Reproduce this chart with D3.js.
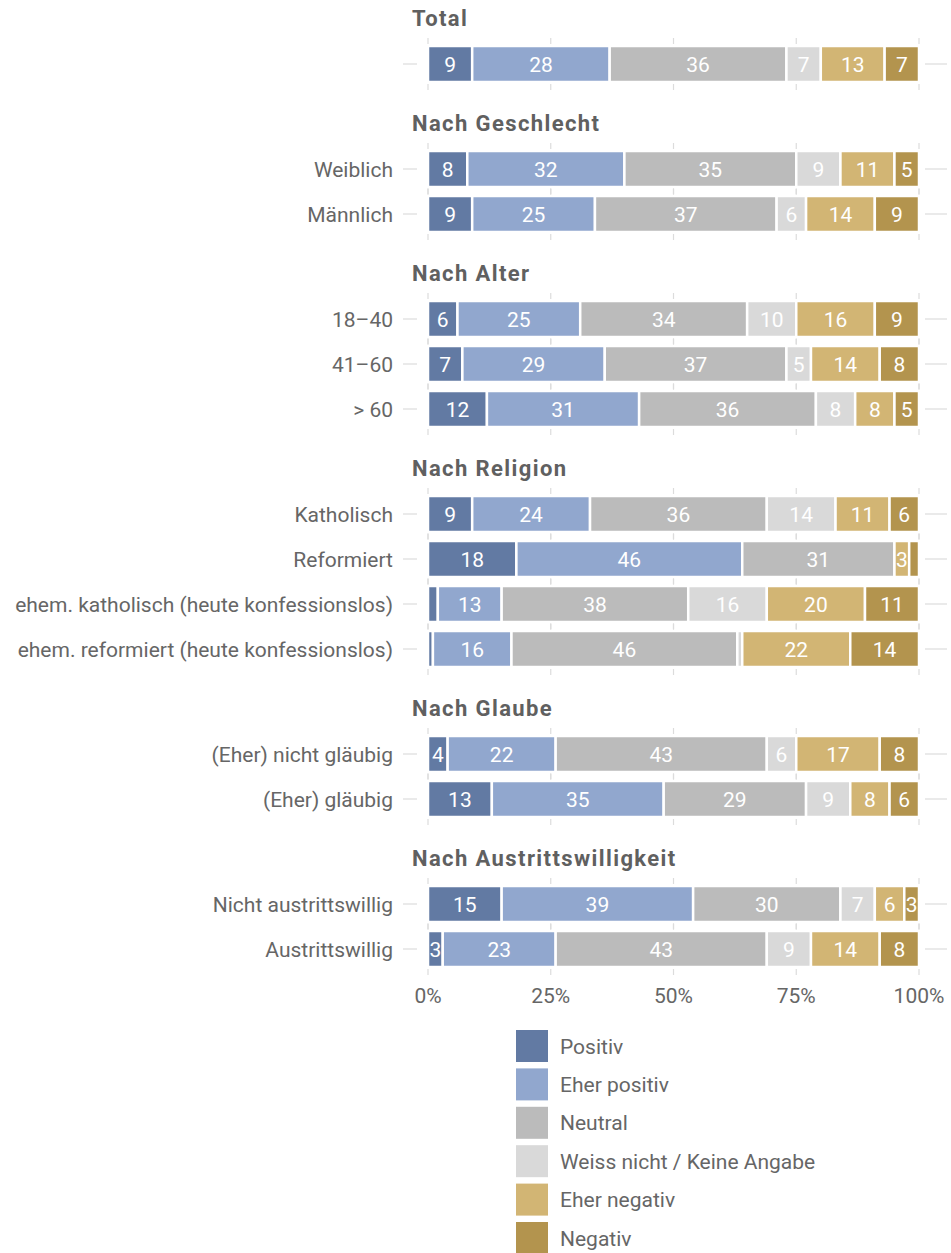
<!DOCTYPE html>
<html>
<head>
<meta charset="utf-8">
<script src="https://cdn.jsdelivr.net/npm/d3@7"></script>
<style>
  html, body { margin: 0; padding: 0; background: #fff; }
  svg text { font-family: Roboto, "Liberation Sans", sans-serif; }
</style>
</head>
<body>
<svg id="chart" width="951" height="1253"></svg>
<script>
const seriesNames = ["Positiv", "Eher positiv", "Neutral", "Weiss nicht / Keine Angabe", "Eher negativ", "Negativ"];
const seriesColors = ["#627aa3", "#91a7ce", "#bbbbbb", "#d9d9d9", "#d2b574", "#b3944e"];

const groups = ["Total", "Nach Geschlecht", "Nach Alter", "Nach Religion", "Nach Glaube", "Nach Austrittswilligkeit"];

const categories = [
  "", "Weiblich", "Männlich", "18–40", "41–60", "> 60",
  "Katholisch", "Reformiert", "ehem. katholisch (heute konfessionslos)", "ehem. reformiert (heute konfessionslos)",
  "(Eher) nicht gläubig", "(Eher) gläubig", "Nicht austrittswillig", "Austrittswillig"
];
const categoryGroup = [0, 1, 1, 2, 2, 2, 3, 3, 3, 3, 4, 4, 5, 5];

const positiv      = [9, 8, 9, 6, 7, 12, 9, 18, 2, 1, 4, 13, 15, 3];
const eherPositiv  = [28, 32, 25, 25, 29, 31, 24, 46, 13, 16, 22, 35, 39, 23];
const neutral      = [36, 35, 37, 34, 37, 36, 36, 31, 38, 46, 43, 29, 30, 43];
const weissNicht   = [7, 9, 6, 10, 5, 8, 14, 0, 16, 1, 6, 9, 7, 9];
const eherNegativ  = [13, 11, 14, 16, 14, 8, 11, 3, 20, 22, 17, 8, 6, 14];
const negativ      = [7, 5, 9, 9, 8, 5, 6, 2, 11, 14, 8, 6, 3, 8];

const tickValues = [0, 25, 50, 75, 100];
const tickLabels = ["0%", "25%", "50%", "75%", "100%"];

const seriesValues = [positiv, eherPositiv, neutral, weissNicht, eherNegativ, negativ];

const svg = d3.select("#chart");
const x = d3.scaleLinear().domain([0, 100]).range([428, 919]);
const slot = (i) => i + categoryGroup[i] * (60 / 45);
const y = d3.scaleLinear().domain([0, 1]).range([64, 109]);

const barH = 36;
const gridColor = "#dcdcdc";
const textColor = "#666666";
const fs = 21;

const rows = categories.map((c, i) => {
  let cum = 0;
  const segs = seriesValues.map((vals, s) => {
    const seg = { s, v: vals[i], x0: cum, x1: cum + vals[i] };
    cum += vals[i];
    return seg;
  });
  return { name: c, i, cy: y(slot(i)), segs };
});

// gridlines
const grid = svg.append("g");
rows.forEach(r => {
  grid.append("line")
    .attr("x1", 403).attr("x2", 417).attr("y1", r.cy).attr("y2", r.cy)
    .attr("stroke", gridColor).attr("stroke-width", 1.2);
  grid.append("line")
    .attr("x1", 925).attr("x2", 947).attr("y1", r.cy).attr("y2", r.cy)
    .attr("stroke", gridColor).attr("stroke-width", 1.2);
  tickValues.forEach(t => {
    [[r.cy - 26, r.cy - 20], [r.cy + 20, r.cy + 26]].forEach(([a, b]) => {
      grid.append("line")
        .attr("x1", x(t)).attr("x2", x(t)).attr("y1", a).attr("y2", b)
        .attr("stroke", gridColor).attr("stroke-width", 1.2);
    });
  });
});

// bars
const bars = svg.append("g");
rows.forEach(r => {
  const g = bars.append("g");
  g.selectAll("rect").data(r.segs.filter(d => d.v > 0)).join("rect")
    .attr("x", d => x(d.x0))
    .attr("width", d => x(d.x1) - x(d.x0))
    .attr("y", r.cy - barH / 2)
    .attr("height", barH)
    .attr("fill", d => seriesColors[d.s])
    .attr("stroke", "#fff")
    .attr("stroke-width", 2.5);
  g.selectAll("text").data(r.segs.filter(d => d.v >= 3)).join("text")
    .attr("x", d => (x(d.x0) + x(d.x1)) / 2)
    .attr("y", r.cy)
    .attr("dy", "0.36em")
    .attr("text-anchor", "middle")
    .attr("fill", "#fff")
    .attr("font-size", fs)
    .text(d => d.v);
  if (r.name) {
    svg.append("text")
      .attr("x", 393).attr("y", r.cy).attr("dy", "0.36em")
      .attr("text-anchor", "end")
      .attr("fill", textColor)
      .attr("font-size", fs)
      .text(r.name);
  }
});

// group headers
groups.forEach((gname, gi) => {
  const first = categoryGroup.indexOf(gi);
  svg.append("text")
    .attr("x", 412).attr("y", y(slot(first)) - 46).attr("dy", "0.36em")
    .attr("fill", "#606060")
    .attr("font-size", 22)
    .attr("font-weight", "bold")
    .attr("letter-spacing", 1.4)
    .text(gname);
});

// axis labels
const lastY = rows[rows.length - 1].cy;
tickValues.forEach((t, k) => {
  svg.append("text")
    .attr("x", x(t)).attr("y", lastY + 46).attr("dy", "0.36em")
    .attr("text-anchor", "middle")
    .attr("fill", textColor)
    .attr("font-size", fs)
    .text(tickLabels[k]);
});

// legend
const legend = svg.append("g").attr("transform", "translate(516,1030)");
seriesNames.forEach((n, k) => {
  const gy = k * 38.4;
  legend.append("rect")
    .attr("x", 0).attr("y", gy).attr("width", 32).attr("height", 32)
    .attr("fill", seriesColors[k]);
  legend.append("text")
    .attr("x", 44).attr("y", gy + 16).attr("dy", "0.36em")
    .attr("fill", textColor)
    .attr("font-size", fs)
    .text(n);
});
</script>
</body>
</html>
